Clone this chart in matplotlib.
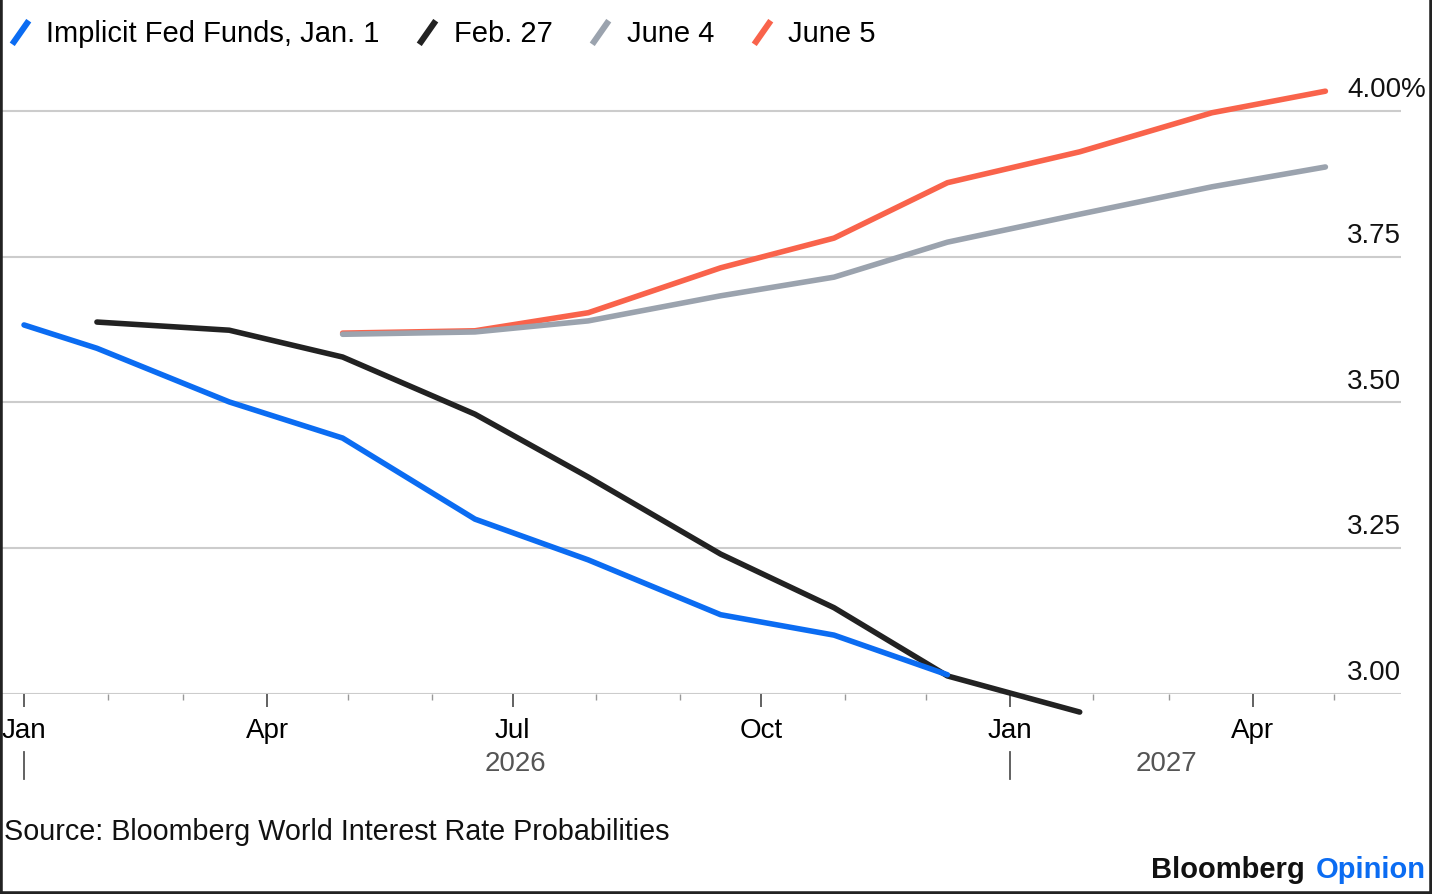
import matplotlib
matplotlib.use('Agg')
import matplotlib.pyplot as plt
import matplotlib.dates as mdates
import matplotlib.transforms as mtrans
from matplotlib.lines import Line2D
from matplotlib.path import Path
from datetime import datetime, timedelta

plt.rcParams['font.family'] = ['Liberation Sans', 'DejaVu Sans']

# FOMC meeting dates
meet = ['2026-01-28', '2026-03-18', '2026-04-29', '2026-06-17', '2026-07-29',
        '2026-09-16', '2026-10-28', '2026-12-09', '2027-01-27', '2027-03-17',
        '2027-04-28']
meet = [datetime.strptime(d, '%Y-%m-%d') for d in meet]

jan1_dates = [datetime(2026, 1, 1)] + meet[:8]
jan1_vals = [3.633, 3.593, 3.501, 3.439, 3.300, 3.230, 3.136, 3.101, 3.033]

feb27_dates = meet[:9]
feb27_vals = [3.638, 3.624, 3.578, 3.480, 3.372, 3.240, 3.148, 3.031, 2.969]

jun4_dates = meet[2:]
jun4_vals = [3.617, 3.621, 3.640, 3.683, 3.715, 3.775, 3.823, 3.870, 3.904]

jun5_dates = meet[2:]
jun5_vals = [3.619, 3.623, 3.654, 3.731, 3.782, 3.877, 3.930, 3.997, 4.034]

names = ['Implicit Fed Funds, Jan. 1', 'Feb. 27', 'June 4', 'June 5']
colors = ['#0b6cf2', '#222222', '#9ba3ae', '#f9634b']

yticks = [3.00, 3.25, 3.50, 3.75, 4.00]
ytick_labels = ['3.00', '3.25', '3.50', '3.75', '4.00']

W, H = 1432, 894
fig = plt.figure(figsize=(W / 100, H / 100), dpi=100)
ax = fig.add_axes([0, (H - 694) / H, 1401 / W, 1.05 * 583 / H])

d0 = datetime(2026, 1, 1)
ax.set_xlim(d0 - timedelta(days=8.9), d0 + timedelta(days=510))
ax.set_ylim(3.0, 4.05)

for y in yticks:
    ax.axhline(y, color='#cccccc', lw=1.5, zorder=1)

lw = 4.0
ax.plot(jun5_dates, jun5_vals, color=colors[3], lw=lw, clip_on=False, zorder=3, solid_capstyle='round')
ax.plot(jun4_dates, jun4_vals, color=colors[2], lw=lw, clip_on=False, zorder=4, solid_capstyle='round')
ax.plot(feb27_dates, feb27_vals, color=colors[1], lw=lw, clip_on=False, zorder=5, solid_capstyle='round')
ax.plot(jan1_dates, jan1_vals, color=colors[0], lw=lw, clip_on=False, zorder=6, solid_capstyle='round')

for s in ax.spines.values():
    s.set_visible(False)
ax.set_yticks([])

ax.xaxis.set_major_locator(mdates.MonthLocator(bymonth=[1, 4, 7, 10]))
ax.xaxis.set_major_formatter(mdates.DateFormatter('%b'))
ax.xaxis.set_minor_locator(mdates.MonthLocator())
ax.tick_params(axis='x', which='major', length=9, width=1.3, color='#555555',
               labelsize=20, pad=8, direction='out')
ax.tick_params(axis='x', which='minor', length=4.5, width=1.0, color='#999999')

for y, lab in zip(yticks, ytick_labels):
    ax.annotate(lab, xy=(1.0, y), xycoords=('axes fraction', 'data'),
                xytext=(0, 10), textcoords='offset points',
                ha='right', va='baseline', fontsize=20, color='#111111')
ax.annotate('%', xy=(1.0, 4.0), xycoords=('axes fraction', 'data'),
            xytext=(0, 10), textcoords='offset points',
            ha='left', va='baseline', fontsize=20, color='#111111')

# year labels and separators
blend = mtrans.blended_transform_factory(ax.transData, ax.transAxes)
for yr, xc in [(2026, d0 + timedelta(days=182)), (2027, d0 + timedelta(days=423))]:
    ax.text(xc, -0.1144, str(yr), transform=blend, ha='center', va='center',
            fontsize=20, color='#555555')
for d in [datetime(2026, 1, 1), datetime(2027, 1, 1)]:
    ax.add_line(Line2D([mdates.date2num(d)] * 2, [-0.0947, -0.1389], transform=blend,
                       color='#555555', lw=1.3, clip_on=False))

# legend with slanted handles
slash = Path([(-0.35, -0.5), (0.35, 0.5)])
handles = [Line2D([], [], color=c, marker=slash, ls='none', markersize=17,
                  markeredgewidth=4.4, fillstyle='none') for c in colors]
fig.legend(handles, names, loc='center left', bbox_to_anchor=(0.0, 1 - 34 / H),
           ncol=4, frameon=False, fontsize=21, handlelength=1.37, handletextpad=0.22,
           columnspacing=0.95, borderpad=0, borderaxespad=0)

fig.text(4 / W, 1 - 832 / H, 'Source: Bloomberg World Interest Rate Probabilities',
         ha='left', va='center', fontsize=20.7, color='#111111')
fig.text(1305 / W, 1 - 870 / H, 'Bloomberg', ha='right', va='center', fontsize=21,
         fontweight='bold', color='#111111')
fig.text(1316 / W, 1 - 870 / H, 'Opinion', ha='left', va='center', fontsize=21,
         fontweight='bold', color='#0b6cf2')

# dark frame edges
for xs, ys in [([0, 0], [0, 1]), ([1, 1], [0, 1]), ([0, 1], [0, 0])]:
    fig.add_artist(Line2D(xs, ys, transform=fig.transFigure, color='#222222', lw=4))

fig.savefig('out.png', dpi=100)
